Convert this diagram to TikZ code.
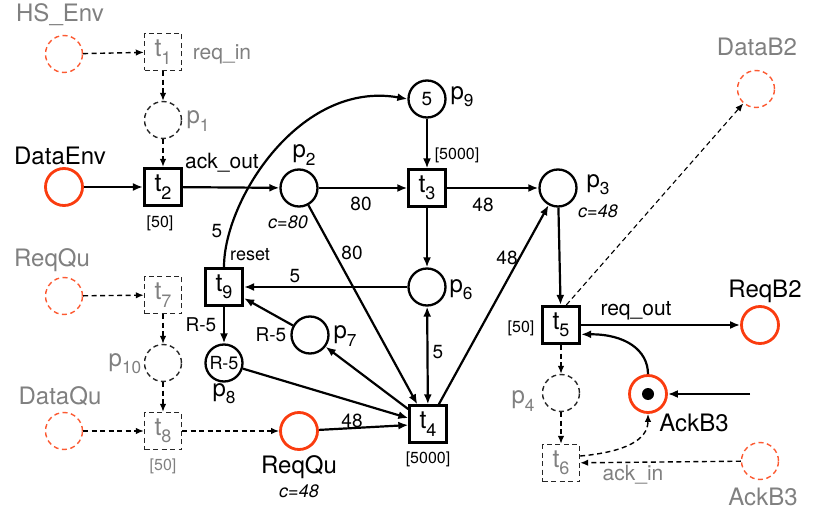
\documentclass[tikz,border=0pt]{standalone}
\usepackage{fontspec}
\usepackage{graphicx}
\setmainfont{TeX Gyre Heros}
\usetikzlibrary{arrows.meta}
\definecolor{pnred}{RGB}{250,60,15}
\definecolor{pnlred}{RGB}{252,90,50}
\definecolor{pngray}{RGB}{128,128,128}
\newcommand\sbx[2]{#1\raisebox{-0.3em}{\scalebox{0.72}{#2}}}
\begin{document}
\begin{tikzpicture}[x=1pt,y=-1pt,
  place/.style={circle,draw,line width=2.3pt,minimum size=37pt,inner sep=0pt,font=\fontsize{19}{19}\selectfont},
  redplace/.style={place,draw=pnred,line width=2.8pt},
  gplace/.style={circle,draw=black!85,dash pattern=on 5pt off 3.5pt,line width=1.4pt,minimum size=37pt,inner sep=0pt},
  gredplace/.style={gplace,draw=pnlred},
  trans/.style={rectangle,draw,line width=2.3pt,minimum size=37pt,inner sep=0pt,font=\fontsize{25}{25}\selectfont},
  ttrans/.style={trans,line width=3.2pt},
  gtrans/.style={trans,draw=black!85,dash pattern=on 5pt off 3.5pt,line width=1.4pt,text=pngray},
  arr/.style={-{Latex[length=10pt,width=8pt]},line width=2.2pt},
  barr/.style={{Latex[length=10pt,width=8pt]}-{Latex[length=10pt,width=8pt]},line width=2.2pt},
  darr/.style={-{Latex[length=8pt,width=6.5pt]},dash pattern=on 5pt off 3.5pt,line width=1.4pt},
  big/.style={font=\fontsize{24}{24}\selectfont,inner sep=0pt},
  mid/.style={font=\fontsize{21}{21}\selectfont,inner sep=0pt},
  pl/.style={font=\fontsize{24}{24}\selectfont,inner sep=0pt},
  wt/.style={font=\fontsize{19}{19}\selectfont,inner sep=0pt},
  small/.style={font=\fontsize{16}{16}\selectfont,inner sep=0pt},
  capty/.style={font=\fontsize{18}{18}\selectfont\itshape,inner sep=0pt},
  gry/.style={text=pngray}]
\useasboundingbox (0,0) rectangle (817,513);
% places and transitions
\node[gredplace] (HSEnv) at (64,54) {};
\node[gtrans] (t1) at (163,52) {\sbx{t}{1}};
\node[gplace] (p1) at (163,120) {};
\node[redplace] (DataEnv) at (64,187) {};
\node[ttrans] (t2) at (163,187) {\sbx{t}{2}};
\node[place] (p2) at (299,188) {};
\node[place] (p9) at (427,99) {5};
\node[trans] (t3) at (427,188) {\sbx{t}{3}};
\node[place] (p3) at (558,188) {};
\node[place] (p6) at (427,287) {};
\node[trans] (t4) at (428,424) {\sbx{t}{4}};
\node[ttrans] (t9) at (224,287) {\sbx{t}{9}};
\node[place] (p7) at (310,335) {};
\node[place,font=\fontsize{18}{18}\selectfont] (p8) at (224,363) {R-5};
\node[redplace] (ReqQuR) at (299,431) {};
\node[gredplace] (ReqQuG) at (64,296) {};
\node[gtrans] (t7) at (163,295) {\sbx{t}{7}};
\node[gplace] (p10) at (163,363) {};
\node[gredplace] (DataQu) at (64,431) {};
\node[gtrans] (t8) at (163,431) {\sbx{t}{8}};
\node[ttrans] (t5) at (561,325) {\sbx{t}{5}};
\node[gredplace] (DataB2) at (756,89) {};
\node[redplace] (ReqB2) at (760,325) {};
\node[redplace] (AckB3) at (648,394) {};
\node[circle,fill=black,minimum size=12pt,inner sep=0pt] (tok) at (648,394) {};
\node[gplace] (p4) at (561,393) {};
\node[gtrans] (t6) at (561,463) {\sbx{t}{6}};
\node[gredplace] (AckB3G) at (760,461) {};
\coordinate (ain) at (750,394);
% labels
\node[big,gry] (lHS) at (60,15) {HS\_Env};
\node[mid,gry] (lreqin) at (222,54) {req\_in};
\node[pl,gry] (lp1) at (198,121) {\sbx{p}{1}};
\node[big] (lDataEnv) at (60,156) {DataEnv};
\node[mid] (lackout) at (222,163) {ack\_out};
\node[small] (l50a) at (160,223) {[50]};
\node[pl] (lp2) at (304,155) {\sbx{p}{2}};
\node[capty] (lc80) at (288,222) {c=80};
\node[pl] (lp9) at (462,97) {\sbx{p}{9}};
\node[small] (l5000a) at (457,155) {[5000]};
\node[wt] (w80a) at (361,204) {80};
\node[wt] (w48a) at (483,205) {48};
\node[pl] (lp3) at (598,185) {\sbx{p}{3}};
\node[capty] (lc48a) at (598,211) {c=48};
\node[wt] (w5arc) at (217,231) {5};
\node[mid,font=\fontsize{18}{18}\selectfont] (lreset) at (250,255) {reset};
\node[big,gry] (lReqQuG) at (52,260) {ReqQu};
\node[wt] (w5b) at (295,276) {5};
\node[pl] (lp6) at (461,290) {\sbx{p}{6}};
\node[wt] (w80b) at (352,253) {80};
\node[wt] (w48b) at (507,258) {48};
\node[wt] (wR5a) at (201,325) {R-5};
\node[wt] (wR5b) at (271,335) {R-5};
\node[pl] (lp7) at (345,336) {\sbx{p}{7}};
\node[pl,gry] (lp10) at (125,364) {\sbx{p}{10}};
\node[pl] (lp8) at (224,394) {\sbx{p}{8}};
\node[wt] (w5c) at (438,352) {5};
\node[big,gry] (lDataQu) at (60,396) {DataQu};
\node[wt] (w48c) at (352,421) {48};
\node[small,gry] (l50b) at (163,466) {[50]};
\node[big] (lReqQuR) at (299,467) {ReqQu};
\node[capty] (lc48b) at (299,491) {c=48};
\node[small] (l5000b) at (428,459) {[5000]};
\node[big,gry] (lDataB2) at (757,47) {DataB2};
\node[small] (l50c) at (521,328) {[50]};
\node[mid] (lreqout) at (636,311) {req\_out};
\node[big] (lReqB2) at (765,291) {ReqB2};
\node[pl,gry] (lp4) at (523,401) {\sbx{p}{4}};
\node[big] (lAckB3) at (694,423) {AckB3};
\node[mid,gry] (lackin) at (633,475) {ack\_in};
\node[big,gry] (lAckB3G) at (763,497) {AckB3};
% arcs
\draw[darr] (HSEnv) -- (t1);
\draw[darr] (t1) -- (p1);
\draw[darr] (p1) -- (t2);
\draw[arr] (DataEnv) -- (t2);
\draw[arr] (t2) -- (p2);
\draw[arr] (p2) -- (t3);
\draw[arr] (p9) -- (t3);
\draw[arr] (t3) -- (p3);
\draw[arr] (t3) -- (p6);
\draw[barr] (p6) -- (t4);
\draw[arr] (p2) -- (t4);
\draw[arr] (t4) -- (p3);
\draw[arr] (p3) -- (t5);
\draw[arr] (p6) -- (t9);
\draw[arr] (p7) -- (t9);
\draw[arr] (t4) -- (p7);
\draw[arr] (t9) -- (p8);
\draw[arr] (p8) -- (t4);
\draw[arr] (ReqQuR) -- (t4);
\draw[darr] (t8) -- (ReqQuR);
\draw[darr] (ReqQuG) -- (t7);
\draw[darr] (t7) -- (p10);
\draw[darr] (p10) -- (t8);
\draw[darr] (DataQu) -- (t8);
\draw[arr] (t9.north) .. controls (224,200) and (300,80) .. (p9.west);
\draw[arr] (t5) -- (ReqB2);
\draw[darr,line width=1.1pt] (t5.75) -- (DataB2);
\draw[arr] (AckB3.north) .. controls (648,350) and (625,334) .. (t5.-25);
\draw[arr] (ain) -- (AckB3);
\draw[darr] (t5) -- (p4);
\draw[darr] (p4) -- (t6);
\draw[darr] (t6.20) .. controls (625,452) and (648,440) .. (AckB3.south);
\draw[darr] (AckB3G) -- (t6);
\end{tikzpicture}
\end{document}
